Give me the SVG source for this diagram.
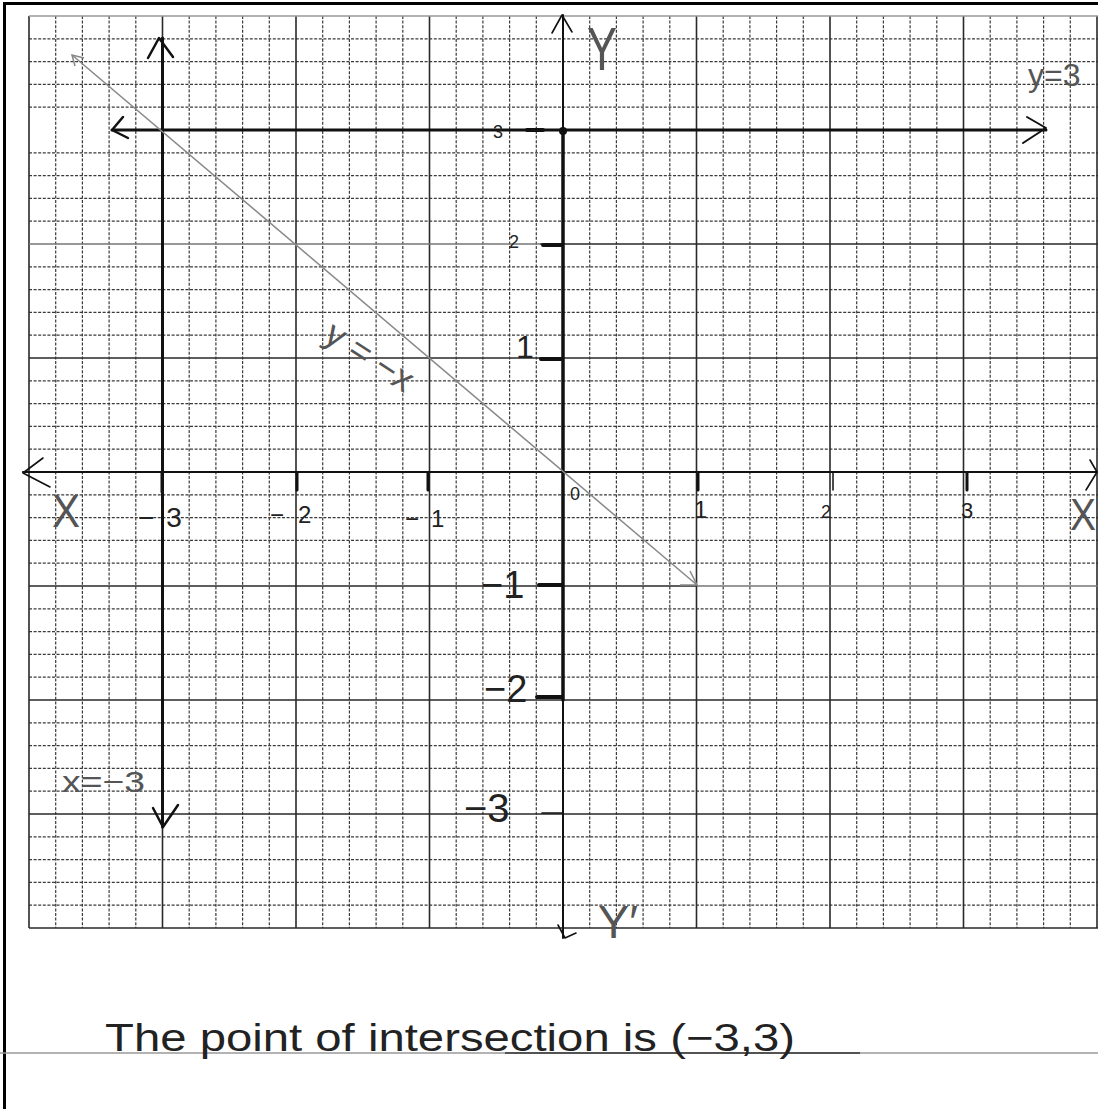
<svg xmlns="http://www.w3.org/2000/svg" width="1098" height="1109" viewBox="0 0 1098 1109">
<style>
.minor{fill:none;stroke:#3a3a3a;stroke-width:1.2;stroke-dasharray:3 1.6}
.major{fill:none;stroke:#2a2a2a;stroke-width:1.6}
.ink{fill:none;stroke:#111;stroke-linecap:round;stroke-linejoin:round}
.lbl{font-family:"Liberation Sans",Arial,sans-serif;fill:#222}
.pencil{font-family:"Liberation Sans",Arial,sans-serif;fill:#555}
</style>
<rect x="0" y="0" width="1098" height="1109" fill="#fff"/>
<path d="M4.5 1109V3.5H1098" fill="none" stroke="#000" stroke-width="3"/>

<g id="grid">
<path class="minor" d="M55.7 16V928M82.4 16V928M109.1 16V928M135.8 16V928M189.2 16V928M215.9 16V928M242.6 16V928M269.3 16V928M322.7 16V928M349.4 16V928M376.1 16V928M402.8 16V928M456.2 16V928M482.9 16V928M509.6 16V928M536.3 16V928M589.7 16V928M616.4 16V928M643.1 16V928M669.8 16V928M723.2 16V928M749.9 16V928M776.6 16V928M803.3 16V928M856.7 16V928M883.4 16V928M910.1 16V928M936.8 16V928M990.2 16V928M1016.9 16V928M1043.6 16V928M1070.3 16V928"/>
<path class="minor" d="M29 38.8H1098M29 61.6H1098M29 84.4H1098M29 107.2H1098M29 152.8H1098M29 175.6H1098M29 198.4H1098M29 221.2H1098M29 266.8H1098M29 289.6H1098M29 312.4H1098M29 335.2H1098M29 380.8H1098M29 403.6H1098M29 426.4H1098M29 449.2H1098M29 494.8H1098M29 517.6H1098M29 540.4H1098M29 563.2H1098M29 608.8H1098M29 631.6H1098M29 654.4H1098M29 677.2H1098M29 722.8H1098M29 745.6H1098M29 768.4H1098M29 791.2H1098M29 836.8H1098M29 859.6H1098M29 882.4H1098M29 905.2H1098"/>
<path class="major" d="M29 16V928M162.5 16V928M296 16V928M429.5 16V928M696.5 16V928M830 16V928M963.5 16V928M1097 16V928"/>
<path class="major" d="M29 358H1098M29 700H1098M29 814H1098M29 928H1098"/>
<path class="major" style="stroke:#999" d="M29 16H1098"/>
<path class="major" style="stroke:#777" d="M29 244H540M697 586H1098"/>
<path class="major" d="M540 244H1098M29 586H697"/>
</g>

<g id="connectors">
<g id="x-axis">
<path class="ink" stroke-width="2.2" d="M23 472H1097"/>
<path class="ink" stroke-width="1.6" d="M43 458L23 473L50 487"/>
<path class="ink" stroke-width="1.6" d="M1090 460L1097 472L1086 490"/>
<path class="ink" stroke-width="3" d="M162 473V492M297 473V490M428 473V490M698 473V490M967 473V490"/>
<path class="ink" stroke-width="1.5" d="M833 473V490"/>
</g>
<g id="y-axis">
<path class="ink" stroke-width="2" d="M563 15V938"/>
<path class="ink" stroke-width="3.5" d="M563 130V700"/>
<path class="ink" stroke-width="1.6" d="M552 33L562 15L572 32"/>
<path class="ink" stroke-width="1.6" d="M558 925L565 938L576 933"/>
<path class="ink" stroke-width="4" d="M527 130H543M543 245H561M541 359H561M539 585H562M537 697H562"/>
<path class="ink" stroke-width="1.6" d="M542 813H562"/>
</g>
<g id="line-y3">
<path class="ink" stroke-width="3" d="M112 130H1046"/>
<path class="ink" stroke-width="2.5" d="M123 117L112 130L128 138"/>
<path class="ink" stroke-width="2" d="M1027 117L1046 128L1023 143"/>
<circle cx="563" cy="131" r="4" fill="#111"/>
</g>
<g id="line-x-3">
<path class="ink" stroke-width="3" d="M162.5 38V827"/>
<path class="ink" stroke-width="2.5" d="M148 58L159 38L173 57"/>
<path class="ink" stroke-width="2.5" d="M153 808L163 827L178 805"/>
</g>
<g id="line-y-negx">
<path fill="none" stroke="#888" stroke-width="1.5" d="M72 55L697 585"/>
<path fill="none" stroke="#888" stroke-width="1.5" d="M75 66L72 55L84 58"/>
<path fill="none" stroke="#888" stroke-width="1.5" d="M690 571L697 585L680 585"/>
</g>
</g>

<g id="labels">
<text class="pencil" x="587" y="70" font-size="62" textLength="30" lengthAdjust="spacingAndGlyphs">Y</text>
<text class="pencil" x="598" y="938" font-size="46" textLength="40" lengthAdjust="spacingAndGlyphs">Y′</text>
<text class="pencil" x="1028" y="86" font-size="32">y=3</text>
<text class="pencil" x="62" y="792" font-size="30" textLength="83" lengthAdjust="spacingAndGlyphs">x=−3</text>
<text class="pencil" x="322" y="340" font-size="36" transform="rotate(33 322 340)">y = −x</text>
<text class="pencil" x="52" y="527" font-size="46" textLength="28" lengthAdjust="spacingAndGlyphs">X</text>
<text class="pencil" x="1070" y="530" font-size="44" textLength="26" lengthAdjust="spacingAndGlyphs">X</text>

<text class="lbl" x="138" y="527" font-size="28">−<tspan dx="12">3</tspan></text>
<text class="lbl" x="270" y="523" font-size="24">−<tspan dx="14">2</tspan></text>
<text class="lbl" x="405" y="527" font-size="24">−<tspan dx="12">1</tspan></text>
<text class="lbl" x="570" y="500" font-size="18">0</text>
<text class="lbl" x="694" y="518" font-size="24">1</text>
<text class="lbl" x="821" y="518" font-size="18">2</text>
<text class="lbl" x="961" y="518" font-size="22">3</text>

<text class="lbl" x="493" y="138" font-size="18">3</text>
<text class="lbl" x="509" y="248" font-size="18">2</text>
<text class="lbl" x="516" y="358" font-size="32">1</text>
<text class="lbl" x="481" y="598" font-size="38">−1</text>
<text class="lbl" x="484" y="702" font-size="38">−2</text>
<text class="lbl" x="464" y="822" font-size="40">−3</text>
</g>

<g id="conclusion">
<path d="M0 1053H1098" fill="none" stroke="#9a9a9a" stroke-width="1.5"/>
<path d="M505 1053H860" fill="none" stroke="#333" stroke-width="1.5"/>
<text class="lbl" x="105" y="1051" font-size="38" fill="#111" textLength="690" lengthAdjust="spacingAndGlyphs">The point of intersection is (−3,3)</text>
</g>
</svg>
